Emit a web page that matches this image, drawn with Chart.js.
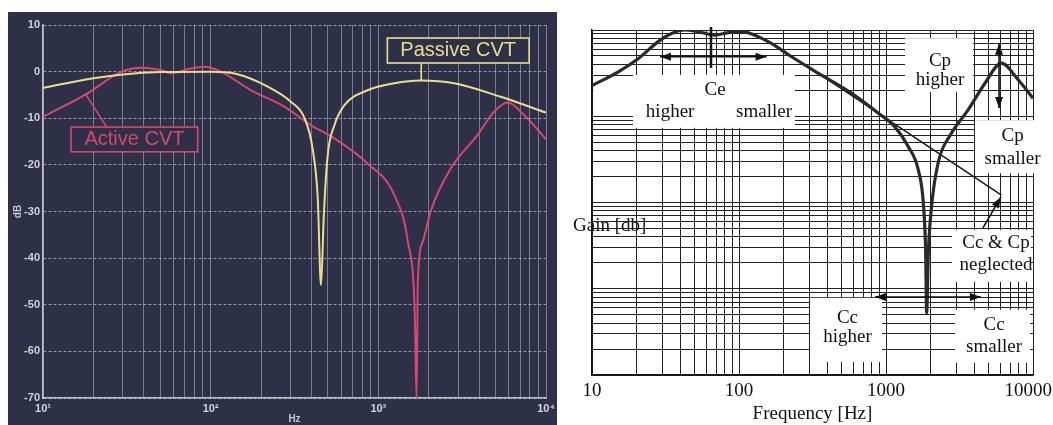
<!DOCTYPE html>
<html>
<head>
<meta charset="utf-8">
<script src="https://cdn.jsdelivr.net/npm/chart.js@4.4.1/dist/chart.umd.min.js"></script>
<style>
  html, body { margin: 0; padding: 0; background: #fff; }
  body { width: 1053px; height: 425px; position: relative; overflow: hidden; }
  #scopeBg { position: absolute; left: 8px; top: 12px; width: 549px; height: 413px; background: #2e3048; }
  #cvtChart { position: absolute; left: 0; top: 0; }
  #modelChart { position: absolute; left: 560px; top: 0; }
</style>
</head>
<body>
<div id="scopeBg"></div>
<canvas id="cvtChart" width="560" height="425"></canvas>
<canvas id="modelChart" width="493" height="425"></canvas>
<script>
// measured CVT responses (Hz, dB)
const passiveFreq = [10, 20, 30, 50, 100, 139, 219, 302, 363, 405, 435, 455, 473, 499, 547, 628, 863, 1245, 1795, 2830, 5370, 10000];
const passiveGain = [-3.5, -1.4, -0.6, -0.1, 0, -0.4, -3.2, -6.5, -10, -16.4, -27, -45.8, -30.8, -17.9, -11.5, -7.2, -4, -2.5, -1.9, -2.5, -5.4, -8.8];

const activeFreq = [10, 17.8, 29.4, 38.7, 50.9, 58.4, 73.4, 92, 115, 174, 275, 397, 547, 863, 1245, 1500, 1650, 1690, 1720, 1840, 2050, 2700, 3900, 4900, 5900, 7400, 10000];
const activeGain = [-9.7, -5, 0, 0.85, 0.3, -0.4, 0.55, 1.05, 0, -4, -7.5, -11.5, -14.3, -19.7, -26.5, -36.5, -52, -70, -45, -36.5, -30, -20.8, -13.6, -8.6, -6.6, -9.3, -14.5];

// model response, with and without Cc / Cp
const modelFreq = [10, 15.1, 20.7, 28.2, 34.8, 42.9, 52.8, 68.5, 84.5, 104, 128, 166, 228, 345, 584, 888, 1146, 1415, 1660, 1795, 1862, 1890, 1940, 2040, 2260, 2780, 3610, 4700, 6100, 7950, 10000];
const modelGain = [-12.9, -9.7, -6.6, -2.7, -0.8, 0, -0.4, -1.2, -0.6, -0.4, -1.2, -3.1, -6.2, -10, -14.7, -19.3, -22.4, -27, -32.5, -40.2, -51.8, -65.6, -51.8, -41, -30.9, -24, -18.6, -12.4, -7.7, -11.6, -15.8];

const neglectFreq = [345, 6100];
const neglectGain = [-10, -38.3];

// axis labels
const decades = [10, 100, 1000, 10000];
const scopeDecadeLabels = ['10¹', '10²', '10³', '10⁴'];
const modelDecadeLabels = ['10', '100', '1000', '10000'];

const scopeBg = '#2e3048';
const passiveColor = '#e8df8e';
const activeColor = '#d8466f';

const toPoints = (xs, ys) => xs.map((f, i) => ({ x: f, y: ys[i] }));

// every 1..9 line of each decade, for log paper grids
function logGridTicks(lo, hi) {
  const ticks = [];
  for (let d = lo; d < hi; d *= 10) {
    for (let k = 1; k < 10; k++) ticks.push({ value: d * k });
  }
  ticks.push({ value: hi });
  return ticks;
}

function arrowHead(ctx, x1, y1, x2, y2, len, half) {
  const a = Math.atan2(y2 - y1, x2 - x1);
  const c = Math.cos(a), s = Math.sin(a);
  ctx.beginPath();
  ctx.moveTo(x2, y2);
  ctx.lineTo(x2 - len * c + half * s, y2 - len * s - half * c);
  ctx.lineTo(x2 - len * c - half * s, y2 - len * s + half * c);
  ctx.closePath();
  ctx.fill();
}

// ---------- left: analyser screen ----------
const scopeNotes = [
  { text: 'Passive CVT', color: passiveColor, box: [1132, 7930, 7.2, 1.85], at: [2993, 4.5], lead: [[1803, 1.85], [1803, -1.8]] },
  { text: 'Active CVT', color: activeColor, box: [14.7, 83.7, -11.9, -17.2], at: [35.1, -14.6], lead: [[24.0, -11.9], [17.8, -4.6]] }
];

const scopeCallouts = {
  id: 'scopeCallouts',
  afterDatasetsDraw(chart) {
    const { ctx, scales: { x, y } } = chart;
    ctx.save();
    ctx.font = '20px "Liberation Sans", Arial, sans-serif';
    ctx.textAlign = 'center';
    ctx.textBaseline = 'middle';
    ctx.lineWidth = 1.6;
    for (const n of scopeNotes) {
      ctx.strokeStyle = n.color;
      ctx.beginPath();
      ctx.moveTo(x.getPixelForValue(n.lead[0][0]), y.getPixelForValue(n.lead[0][1]));
      ctx.lineTo(x.getPixelForValue(n.lead[1][0]), y.getPixelForValue(n.lead[1][1]));
      ctx.stroke();
      const x1 = x.getPixelForValue(n.box[0]), x2 = x.getPixelForValue(n.box[1]);
      const y1 = y.getPixelForValue(n.box[2]), y2 = y.getPixelForValue(n.box[3]);
      ctx.fillStyle = scopeBg;
      ctx.fillRect(x1, y1, x2 - x1, y2 - y1);
      ctx.strokeRect(x1, y1, x2 - x1, y2 - y1);
      ctx.fillStyle = n.color;
      ctx.fillText(n.text, x.getPixelForValue(n.at[0]), y.getPixelForValue(n.at[1]));
    }
    ctx.restore();
  }
};

const scopeFont = { family: '"Liberation Sans", Arial, sans-serif', size: 11, weight: 'bold' };

new Chart(document.getElementById('cvtChart'), {
  type: 'line',
  data: {
    datasets: [
      { label: 'Passive CVT', data: toPoints(passiveFreq, passiveGain), borderColor: passiveColor, borderWidth: 2, pointRadius: 0, cubicInterpolationMode: 'monotone' },
      { label: 'Active CVT', data: toPoints(activeFreq, activeGain), borderColor: activeColor, borderWidth: 2, pointRadius: 0, cubicInterpolationMode: 'monotone' }
    ]
  },
  options: {
    responsive: false,
    animation: false,
    layout: { padding: { top: 25, right: 14, left: 0, bottom: 0 } },
    plugins: { legend: { display: false }, tooltip: { enabled: false } },
    scales: {
      x: {
        type: 'logarithmic', min: 10, max: 10000,
        afterBuildTicks: s => { s.ticks = logGridTicks(10, 10000); },
        afterFit: s => { s.height = 27; },
        grid: { color: 'rgba(215,215,232,0.45)', lineWidth: 1, drawTicks: false },
        border: { color: 'rgba(225,225,238,0.8)', width: 1.5 },
        ticks: {
          autoSkip: false, maxRotation: 0, padding: 4, color: '#d2d2dc', font: scopeFont,
          callback: v => { const i = decades.indexOf(Math.round(v)); return i < 0 ? '' : scopeDecadeLabels[i]; }
        },
        title: { display: true, text: 'Hz', color: '#c8c8d4', padding: 0, font: { family: scopeFont.family, size: 10, weight: 'bold' } }
      },
      y: {
        min: -70, max: 10,
        afterFit: s => { s.width = 43; },
        grid: { color: 'rgba(215,215,232,0.6)', lineWidth: 1, drawTicks: false },
        border: { color: 'rgba(225,225,238,0.8)', width: 1.5, dash: [3, 2] },
        ticks: { stepSize: 10, padding: 3, color: '#d2d2dc', font: scopeFont },
        title: { display: true, text: 'dB', color: '#c8c8d4', padding: { top: 12, bottom: 0 }, font: { family: scopeFont.family, size: 10, weight: 'bold' } }
      }
    }
  },
  plugins: [scopeCallouts]
});

// ---------- right: model on log paper ----------
const paperBoxes = [
  [19.0, 240, -10.4, -22.7], [10.2, 19.0, -13.2, -19.7],
  [1346, 3910, -1.9, -14.4], [4030, 11170, -20.9, -33.2],
  [2810, 9690, -46.4, -58.4], [304, 940, -62.1, -77.0], [2945, 9550, -64.9, -77.2]
];
const paperTexts = [
  ['Ce', 68.8, -13.9], ['higher', 34, -19.0], ['smaller', 148, -19.0],
  ['Cp', 2330, -7.2], ['higher', 2330, -11.6],
  ['Cp', 7260, -24.6], ['smaller', 7260, -29.9],
  ['Cc & Cp', 5600, -49.5], ['neglected', 5600, -54.4],
  ['Cc', 547, -66.9], ['higher', 547, -71.3],
  ['Cc', 5430, -68.4], ['smaller', 5430, -73.4]
];
const paperArrows = [
  { from: [29.0, -6.2], to: [154, -6.2], both: true },
  { from: [5875, -3.2], to: [5875, -18.1], both: true },
  { from: [841, -61.9], to: [4425, -61.9], both: true },
  { from: [4570, -45.9], to: [6050, -38.7], both: false }
];
const ceMark = [[64.5, 0.7], [64.5, -8.8]];
const paperFont = '19px "Liberation Serif", "Times New Roman", serif';

const paperNotes = {
  id: 'paperNotes',
  beforeDatasetsDraw(chart) {
    const { ctx, scales: { x, y } } = chart;
    ctx.save();
    ctx.fillStyle = '#fff';
    for (const b of paperBoxes) {
      const x1 = x.getPixelForValue(b[0]), x2 = x.getPixelForValue(b[1]);
      const y1 = y.getPixelForValue(b[2]), y2 = y.getPixelForValue(b[3]);
      ctx.fillRect(x1, y1, x2 - x1, y2 - y1);
    }
    ctx.restore();
  },
  afterDatasetsDraw(chart) {
    const { ctx, scales: { x, y } } = chart;
    const P = p => [x.getPixelForValue(p[0]), y.getPixelForValue(p[1])];
    ctx.save();
    ctx.fillStyle = '#111';
    ctx.strokeStyle = '#111';
    ctx.font = paperFont;
    ctx.textAlign = 'center';
    ctx.textBaseline = 'middle';
    for (const t of paperTexts) {
      const [px, py] = P([t[1], t[2]]);
      ctx.fillText(t[0], px, py);
    }
    ctx.textAlign = 'left';
    const [gx, gy] = P([7.43, -45.5]);
    ctx.fillText('Gain [db]', gx, gy);

    ctx.lineWidth = 1.6;
    for (const a of paperArrows) {
      const [x1, y1] = P(a.from), [x2, y2] = P(a.to);
      ctx.beginPath();
      ctx.moveTo(x1, y1);
      ctx.lineTo(x2, y2);
      ctx.stroke();
      arrowHead(ctx, x1, y1, x2, y2, 11, 4);
      if (a.both) arrowHead(ctx, x2, y2, x1, y1, 11, 4);
    }
    const [mx1, my1] = P(ceMark[0]), [mx2, my2] = P(ceMark[1]);
    ctx.lineWidth = 2.5;
    ctx.beginPath();
    ctx.moveTo(mx1, my1);
    ctx.lineTo(mx2, my2);
    ctx.stroke();
    ctx.restore();
  }
};

const inkGrid = { color: '#222', lineWidth: 1, drawTicks: false };

new Chart(document.getElementById('modelChart'), {
  type: 'line',
  data: {
    datasets: [
      { label: 'with Cc, Cp', data: toPoints(modelFreq, modelGain), borderColor: '#2a2a2a', borderWidth: 3.2, pointRadius: 0, cubicInterpolationMode: 'monotone' },
      { label: 'Cc & Cp neglected', data: toPoints(neglectFreq, neglectGain), borderColor: '#1a1a1a', borderWidth: 1.6, pointRadius: 0 }
    ]
  },
  options: {
    responsive: false,
    animation: false,
    layout: { padding: { top: 30, right: 20, left: 0, bottom: 0 } },
    plugins: { legend: { display: false }, tooltip: { enabled: false } },
    scales: {
      x: {
        type: 'logarithmic', min: 10, max: 10000,
        afterBuildTicks: s => { s.ticks = logGridTicks(10, 10000); },
        afterFit: s => { s.height = 50; s.paddingRight = 0; },
        grid: inkGrid,
        border: { color: '#111', width: 1.5 },
        ticks: {
          autoSkip: false, maxRotation: 0, padding: 5, color: '#111',
          font: { family: '"Liberation Serif", "Times New Roman", serif', size: 19 },
          callback: v => {
            const i = decades.indexOf(Math.round(v));
            if (i < 0) return '';
            return i === decades.length - 1 ? modelDecadeLabels[i] + '\u2007' : modelDecadeLabels[i];
          }
        },
        title: { display: true, text: 'Frequency [Hz]', color: '#111', padding: 0, font: { family: '"Liberation Serif", "Times New Roman", serif', size: 19 } }
      },
      y: { min: -80, max: 0, display: false },
      paper: {
        type: 'logarithmic', position: 'left', min: 1, max: 10000,
        afterBuildTicks: s => { s.ticks = logGridTicks(1, 10000); },
        afterFit: s => { s.width = 32; },
        grid: inkGrid,
        border: { color: '#111', width: 1.5 },
        ticks: { display: false }
      }
    }
  },
  plugins: [paperNotes]
});
</script>
</body>
</html>
